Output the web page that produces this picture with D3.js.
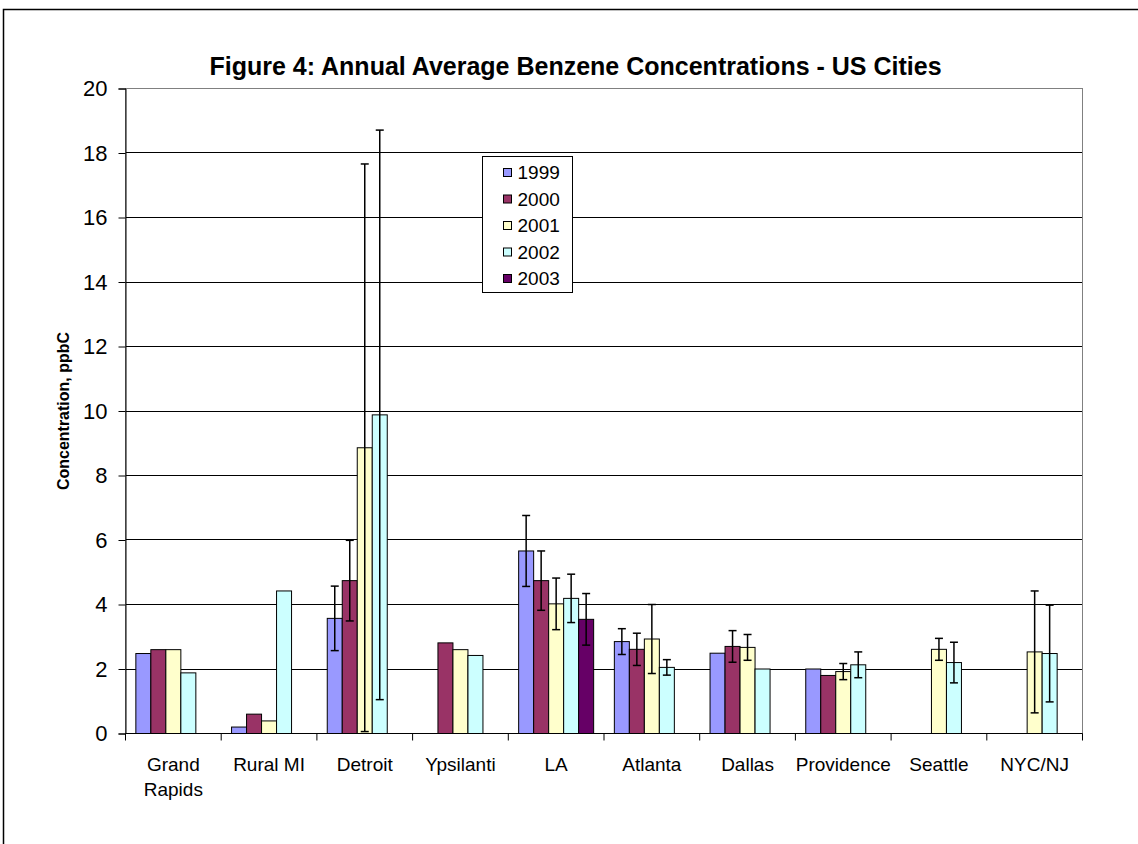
<!DOCTYPE html>
<html>
<head>
<meta charset="utf-8">
<script src="https://cdn.jsdelivr.net/npm/d3@7"></script>
<style>
  body { margin: 0; background: #fff; }
  svg { display: block; font-family: "Liberation Sans", Arial, sans-serif; }
</style>
</head>
<body>
<div id="chart"></div>
<script>
(function () {

// categories and series
var cities = ["Grand Rapids", "Rural MI", "Detroit", "Ypsilanti", "LA", "Atlanta", "Dallas", "Providence", "Seattle", "NYC/NJ"];
var years = ["1999", "2000", "2001", "2002", "2003"];
var colors = ["#9999ff", "#993366", "#ffffcc", "#ccffff", "#660066"];

// annual averages (ppbC), null = no data
var v1999 = [2.48, 0.2, 3.57, null, 5.66, 2.85, 2.49, 2.0, null, null];
var v2000 = [2.6, 0.6, 4.74, 2.81, 4.74, 2.61, 2.7, 1.8, null, null];
var v2001 = [2.6, 0.39, 8.86, 2.6, 4.02, 2.93, 2.67, 1.92, 2.61, 2.53];
var v2002 = [1.88, 4.42, 9.88, 2.42, 4.19, 2.05, 2.0, 2.13, 2.2, 2.48];
var v2003 = [null, null, null, null, 3.54, null, null, null, null, null];

// error bar half-widths
var e1999 = [null, null, 1.0, null, 1.1, 0.4, null, null, null, null];
var e2000 = [null, null, 1.25, null, 0.92, 0.5, 0.49, null, null, null];
var e2001 = [null, null, 8.8, null, 0.8, 1.07, 0.4, 0.25, 0.34, 1.89];
var e2002 = [null, null, 8.83, null, 0.75, 0.24, null, 0.4, 0.63, 1.5];
var e2003 = [null, null, null, null, 0.8, null, null, null, null, null];

var yTicks = [0, 2, 4, 6, 8, 10, 12, 14, 16, 18, 20];

var values = [v1999, v2000, v2001, v2002, v2003];
var errors = [e1999, e2000, e2001, e2002, e2003];

var width = 1138, height = 844;
var margin = { top: 88.5, right: 55.5, bottom: 110.5, left: 125.5 };

var svg = d3.select("#chart").append("svg")
    .attr("width", width)
    .attr("height", height);

// chart frame
svg.append("rect")
    .attr("x", 3.5).attr("y", 9.5)
    .attr("width", 1200).attr("height", 900)
    .attr("fill", "#fff")
    .attr("stroke", "#000")
    .attr("stroke-width", 1.5);

var plotW = width - margin.left - margin.right;
var plotH = height - margin.top - margin.bottom;

var g = svg.append("g")
    .attr("transform", "translate(" + margin.left + "," + margin.top + ")");

var x = d3.scaleBand().domain(cities).range([0, plotW]).paddingInner(0).paddingOuter(0);
var x1 = d3.scaleBand().domain(years).range([0, x.bandwidth()]).paddingInner(0).paddingOuter(0.69);
var y = d3.scaleLinear().domain([0, 20]).range([plotH, 0]);

// gridlines
g.append("g")
  .selectAll("line")
  .data(yTicks.filter(function (d) { return d > 0 && d < 20; }))
  .enter().append("line")
    .attr("x1", 0).attr("x2", plotW)
    .attr("y1", function (d) { return Math.round(y(d)); })
    .attr("y2", function (d) { return Math.round(y(d)); })
    .attr("stroke", "#000")
    .attr("shape-rendering", "crispEdges");

// plot border (grey)
g.append("rect")
    .attr("x", 0).attr("y", 0)
    .attr("width", plotW).attr("height", plotH)
    .attr("fill", "none")
    .attr("stroke", "#808080")
    .attr("shape-rendering", "crispEdges");

// flatten bars
var bars = [];
cities.forEach(function (c, i) {
  years.forEach(function (yr, j) {
    if (values[j][i] != null) {
      bars.push({ city: c, year: yr, idx: j, v: values[j][i], e: errors[j][i] });
    }
  });
});

g.append("g")
  .selectAll("rect")
  .data(bars)
  .enter().append("rect")
    .attr("x", function (d) { return x(d.city) + x1(d.year); })
    .attr("y", function (d) { return y(d.v); })
    .attr("width", x1.bandwidth())
    .attr("height", function (d) { return plotH - y(d.v); })
    .attr("fill", function (d) { return colors[d.idx]; })
    .attr("stroke", "#000")
    .attr("stroke-width", 1);

// error bars
var eb = g.append("g")
  .selectAll("g")
  .data(bars.filter(function (d) { return d.e != null; }))
  .enter().append("g")
    .attr("stroke", "#000")
    .attr("stroke-width", 1.5);

function cx(d) { return x(d.city) + x1(d.year) + x1.bandwidth() / 2; }

eb.append("line")
    .attr("x1", cx).attr("x2", cx)
    .attr("y1", function (d) { return y(d.v + d.e); })
    .attr("y2", function (d) { return y(d.v - d.e); });
eb.append("line")
    .attr("x1", function (d) { return cx(d) - 4; })
    .attr("x2", function (d) { return cx(d) + 4; })
    .attr("y1", function (d) { return y(d.v + d.e); })
    .attr("y2", function (d) { return y(d.v + d.e); });
eb.append("line")
    .attr("x1", function (d) { return cx(d) - 4; })
    .attr("x2", function (d) { return cx(d) + 4; })
    .attr("y1", function (d) { return y(d.v - d.e); })
    .attr("y2", function (d) { return y(d.v - d.e); });

// y axis
var yAxis = g.append("g")
    .call(d3.axisLeft(y).tickValues(yTicks).tickSize(7).tickPadding(11))
    .style("font-family", "Liberation Sans, Arial, sans-serif")
    .style("font-size", "22px");
yAxis.select(".domain").attr("stroke", "#000");
yAxis.selectAll(".tick line").attr("stroke", "#000");
yAxis.selectAll(".tick text").attr("fill", "#000");

// x axis: baseline + ticks at category boundaries
g.append("line")
    .attr("x1", 0).attr("x2", plotW)
    .attr("y1", plotH).attr("y2", plotH)
    .attr("stroke", "#000");
g.append("g")
  .selectAll("line")
  .data(cities.concat(["_end"]))
  .enter().append("line")
    .attr("x1", function (d, i) { return i * x.step(); })
    .attr("x2", function (d, i) { return i * x.step(); })
    .attr("y1", plotH).attr("y2", plotH + 7)
    .attr("stroke", "#000");

var xl = g.append("g")
  .selectAll("text")
  .data(cities)
  .enter().append("text")
    .attr("x", function (d) { return x(d) + x.bandwidth() / 2; })
    .attr("y", plotH + 37)
    .attr("text-anchor", "middle")
    .style("font-size", "19px")
    .attr("fill", "#000");
xl.each(function (d) {
  var parts = d === "Grand Rapids" ? ["Grand", "Rapids"] : [d];
  var t = d3.select(this);
  parts.forEach(function (p, k) {
    t.append("tspan")
      .attr("x", x(d) + x.bandwidth() / 2)
      .attr("dy", k === 0 ? 0 : 25)
      .text(p);
  });
});

// y axis title
svg.append("text")
    .attr("transform", "translate(69," + (margin.top + plotH / 2) + ") rotate(-90)")
    .attr("text-anchor", "middle")
    .style("font-size", "16px")
    .style("font-weight", "bold")
    .text("Concentration, ppbC");

// chart title
svg.append("text")
    .attr("x", 575.5)
    .attr("y", 75)
    .attr("text-anchor", "middle")
    .style("font-size", "25px")
    .style("font-weight", "bold")
    .text("Figure 4: Annual Average Benzene Concentrations - US Cities");

// legend
var lg = svg.append("g").attr("transform", "translate(482.5,156.5)");
lg.append("rect")
    .attr("width", 90).attr("height", 136)
    .attr("fill", "#fff")
    .attr("stroke", "#000");
var items = lg.selectAll("g.item")
  .data(years)
  .enter().append("g")
    .attr("class", "item")
    .attr("transform", function (d, i) { return "translate(21," + (16 + i * 26.5) + ")"; });
items.append("rect")
    .attr("x", 0).attr("y", -4)
    .attr("width", 8).attr("height", 8)
    .attr("fill", function (d, i) { return colors[i]; })
    .attr("stroke", "#000");
items.append("text")
    .attr("x", 14)
    .attr("dy", "0.36em")
    .style("font-size", "19px")
    .text(function (d) { return d; });

})();
</script>
</body>
</html>
